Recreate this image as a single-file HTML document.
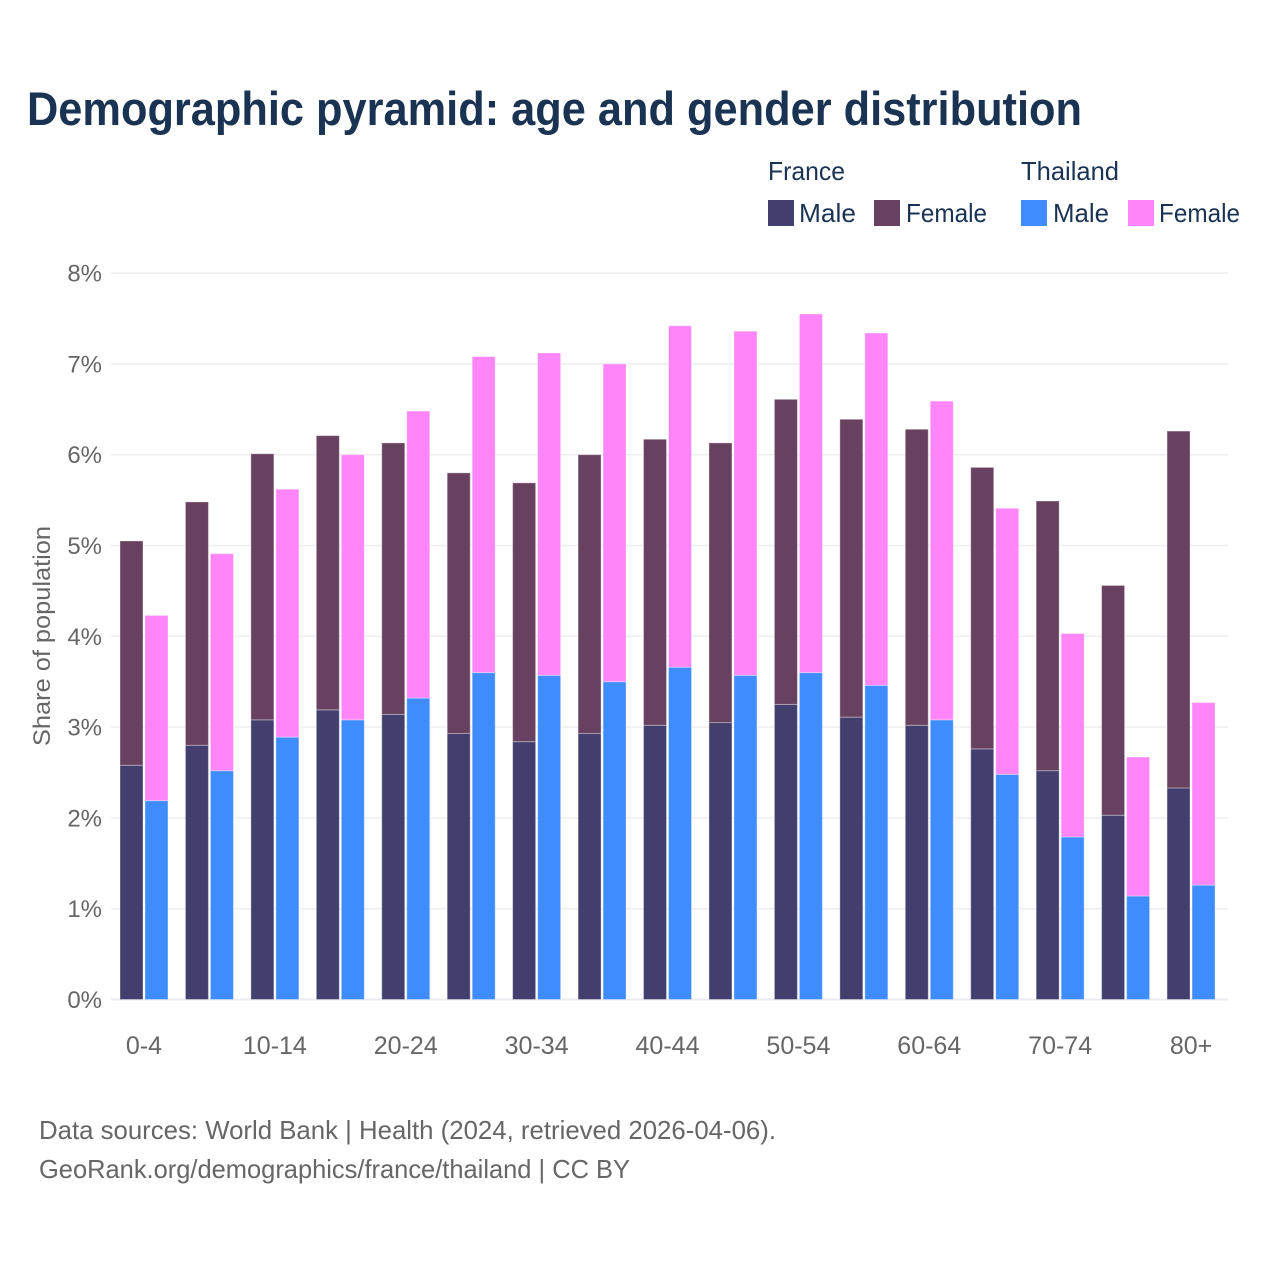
<!DOCTYPE html>
<html lang="en">
<head>
<meta charset="utf-8">
<title>Demographic pyramid: age and gender distribution</title>
<style>
html,body{margin:0;padding:0;background:#fff;width:1280px;height:1280px;overflow:hidden}
svg{display:block}
text{font-family:"Liberation Sans",sans-serif}
</style>
</head>
<body>
<svg id="chart" xmlns="http://www.w3.org/2000/svg" width="1280" height="1280" viewBox="0 0 1280 1280">
<rect width="1280" height="1280" fill="#fff"/>
<text x="27" y="125" font-size="47" font-weight="700" fill="#1a3353" textLength="1055" lengthAdjust="spacingAndGlyphs">Demographic pyramid: age and gender distribution</text>
<g font-size="26" fill="#1a3353">
<text x="768" y="180" textLength="77" lengthAdjust="spacingAndGlyphs">France</text>
<text x="1021" y="180" textLength="98" lengthAdjust="spacingAndGlyphs">Thailand</text>
<rect x="768" y="200" width="26" height="26" fill="#423f6f"/>
<text x="799" y="222" textLength="57" lengthAdjust="spacingAndGlyphs">Male</text>
<rect x="874" y="200" width="26" height="26" fill="#67415f"/>
<text x="906" y="222" textLength="81" lengthAdjust="spacingAndGlyphs">Female</text>
<rect x="1021" y="200" width="26" height="26" fill="#3f8cff"/>
<text x="1053" y="222" textLength="56" lengthAdjust="spacingAndGlyphs">Male</text>
<rect x="1128" y="200" width="26" height="26" fill="#ff85f8"/>
<text x="1159" y="222" textLength="81" lengthAdjust="spacingAndGlyphs">Female</text>
</g>
<g id="grid"></g>
<g id="bars"></g>
<g id="yticks"></g>
<g id="xticks"></g>
<text transform="translate(50,636) rotate(-90)" text-anchor="middle" font-size="24.5" fill="#666" textLength="220" lengthAdjust="spacingAndGlyphs">Share of population</text>
<text x="39" y="1139" font-size="26" fill="#666" textLength="737" lengthAdjust="spacingAndGlyphs">Data sources: World Bank | Health (2024, retrieved 2026-04-06).</text>
<text x="39" y="1178" font-size="26" fill="#666" textLength="591" lengthAdjust="spacingAndGlyphs">GeoRank.org/demographics/france/thailand | CC BY</text>
</svg>
<script>
const ageGroups = ["0-4","5-9","10-14","15-19","20-24","25-29","30-34","35-39","40-44","45-49","50-54","55-59","60-64","65-69","70-74","75-79","80+"];
const franceMale = [2.58,2.80,3.08,3.19,3.14,2.93,2.84,2.93,3.02,3.05,3.25,3.11,3.02,2.76,2.52,2.03,2.33];
const franceFemale = [2.47,2.68,2.93,3.02,2.99,2.87,2.85,3.07,3.15,3.08,3.36,3.28,3.26,3.10,2.97,2.53,3.93];
const thailandMale = [2.19,2.52,2.89,3.08,3.32,3.60,3.57,3.50,3.66,3.57,3.60,3.46,3.08,2.48,1.79,1.14,1.26];
const thailandFemale = [2.04,2.39,2.73,2.92,3.16,3.48,3.55,3.50,3.76,3.79,3.95,3.88,3.51,2.93,2.24,1.53,2.01];
const yTickValues = [0,1,2,3,4,5,6,7,8];
const xTickLabels = ["0-4","10-14","20-24","30-34","40-44","50-54","60-64","70-74","80+"];

const NS = "http://www.w3.org/2000/svg";
const yBase = 999.5, yUnit = 90.8;
const xFirst = 144, xStep = 65.44, barW = 23, barGap = 2;
const plotLeft = 111, plotRight = 1228;
const yScale = v => yBase - v * yUnit;
const xScale = i => xFirst + xStep * i;
const gridG = document.getElementById("grid");
const barsG = document.getElementById("bars");
const yG = document.getElementById("yticks");
const xG = document.getElementById("xticks");

yTickValues.forEach(v => {
  const line = document.createElementNS(NS, "line");
  
  
  line.setAttribute("x1", plotLeft);
  line.setAttribute("x2", plotRight);
  line.setAttribute("y1", yScale(v));
  line.setAttribute("y2", yScale(v));
  line.setAttribute("stroke", v === 0 ? "#ebebf2" : "#eeeeee");
  line.setAttribute("stroke-width", v === 0 ? 2 : 1.5);
  gridG.appendChild(line);

  const t = document.createElementNS(NS, "text");
  
  
  t.setAttribute("x", 102);
  t.setAttribute("y", yScale(v) + 8.5);
  t.setAttribute("text-anchor", "end");
  t.setAttribute("font-size", 24);
  t.setAttribute("fill", "#666");
  t.textContent = v + "%";
  yG.appendChild(t);
});

function drawBar(x, y0, y1, fill) {
  const r = document.createElementNS(NS, "rect");
  
  
  r.setAttribute("x", x);
  r.setAttribute("y", yScale(y1));
  r.setAttribute("width", barW);
  r.setAttribute("height", yScale(y0) - yScale(y1));
  r.setAttribute("fill", fill);
  r.setAttribute("stroke", "#fff");
  r.setAttribute("stroke-opacity", "0.35");
  r.setAttribute("stroke-width", "1");
  barsG.appendChild(r);
}

ageGroups.forEach((age, i) => {
  const cx = xScale(i);
  const fx = cx - barW - barGap / 2;
  const tx = cx + barGap / 2;
  drawBar(fx, 0, franceMale[i], "#423f6f");
  drawBar(fx, franceMale[i], franceMale[i] + franceFemale[i], "#67415f");
  drawBar(tx, 0, thailandMale[i], "#3f8cff");
  drawBar(tx, thailandMale[i], thailandMale[i] + thailandFemale[i], "#ff85f8");
  if (xTickLabels.includes(age)) {
    const t = document.createElementNS(NS, "text");
    
    
    t.setAttribute("x", cx);
    t.setAttribute("y", 1054);
    t.setAttribute("text-anchor", "middle");
    t.setAttribute("font-size", 25);
    t.setAttribute("fill", "#666");
    t.textContent = age;
    xG.appendChild(t);
  }
});
</script>
</body>
</html>
